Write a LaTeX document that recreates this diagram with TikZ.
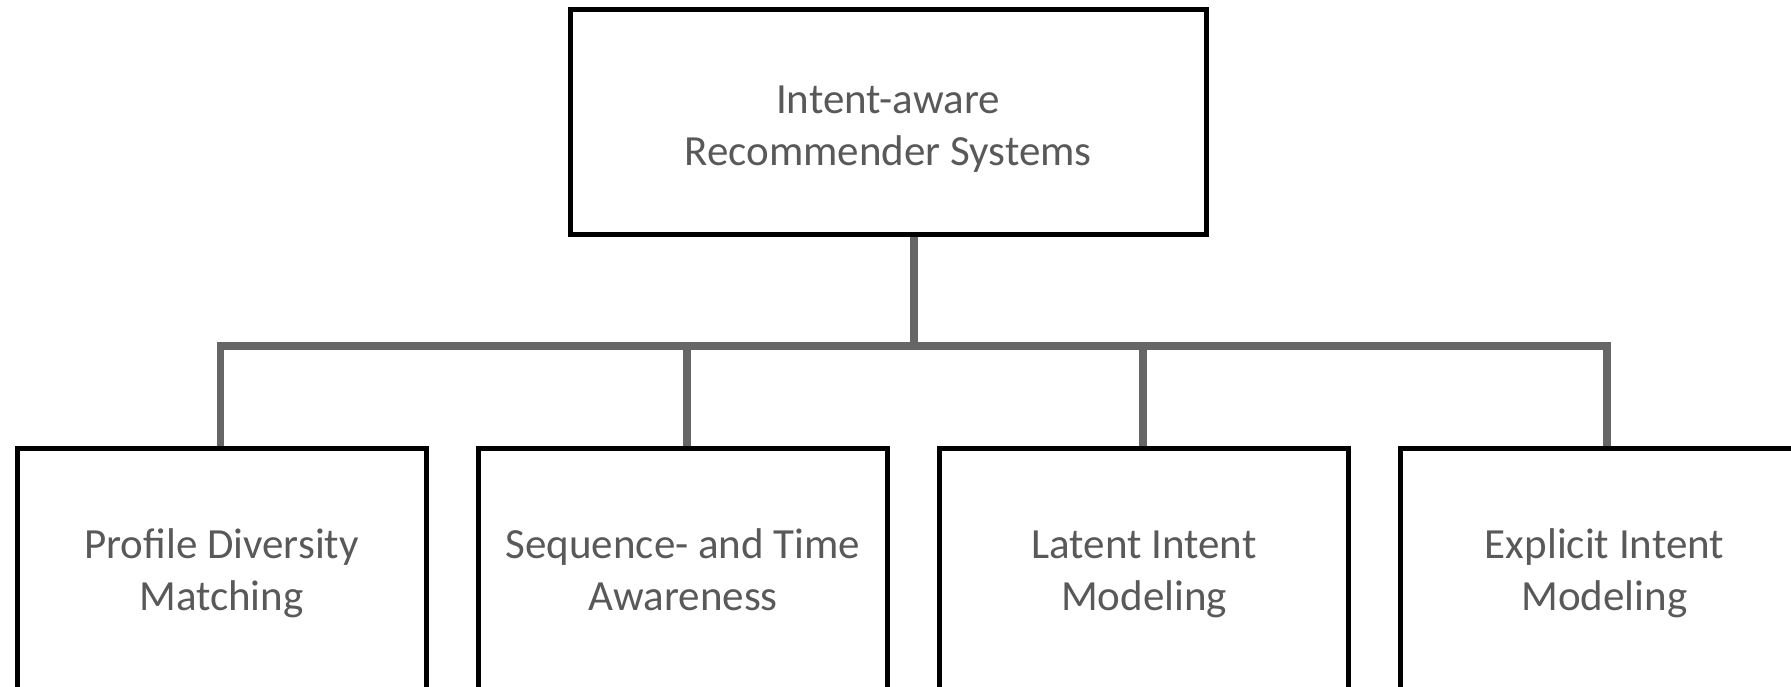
\documentclass[tikz,border=0pt]{standalone}
\usepackage{fontspec}
\setmainfont{Carlito}
\usetikzlibrary{backgrounds}
\definecolor{txtgray}{HTML}{595959}
\definecolor{lingray}{HTML}{666666}
\tikzset{
  box/.style={draw=black, line width=5pt, fill=white, inner sep=0pt,
    align=center, text=txtgray, font=\fontsize{43}{52}\selectfont},
  topbox/.style={box, minimum width=636pt, minimum height=225pt},
  childbox/.style={box, minimum width=409pt, minimum height=252pt},
  conn/.style={draw=lingray, line width=7.5pt, line join=miter}
}
\begin{document}
\begin{tikzpicture}[x=1pt,y=-1pt]
\useasboundingbox (0,0) rectangle (1791,686);
\clip (0,0) rectangle (1791,686);
\node[topbox] (top) at (888,121.5) {\rule{0pt}{51pt}Intent-aware\\\strut Recommender Systems};
\node[childbox] (c1) at (221.5,574) {\strut Profile Diversity\\\strut Matching};
\node[childbox] (c2) at (683,574) {\strut Sequence- and Time\\\strut Awareness};
\node[childbox] (c3) at (1144,574) {\strut Latent Intent\\\strut Modeling};
\node[childbox] (c4) at (1604.5,574) {\strut Explicit Intent\\\strut Modeling};
\coordinate (j) at (914,346);
\coordinate (d1) at ([xshift=-1pt]c1.north);
\coordinate (d2) at ([xshift=4pt]c2.north);
\coordinate (d3) at ([xshift=-1pt]c3.north);
\coordinate (d4) at ([xshift=2.5pt]c4.north);
\begin{pgfonlayer}{background}
\draw[conn] (top.south -| j) -- (j);
\draw[conn] (d1) |- (j -| d4) -- (d4);
\draw[conn] (j -| d2) -- (d2);
\draw[conn] (j -| d3) -- (d3);
\end{pgfonlayer}
\end{tikzpicture}
\end{document}
